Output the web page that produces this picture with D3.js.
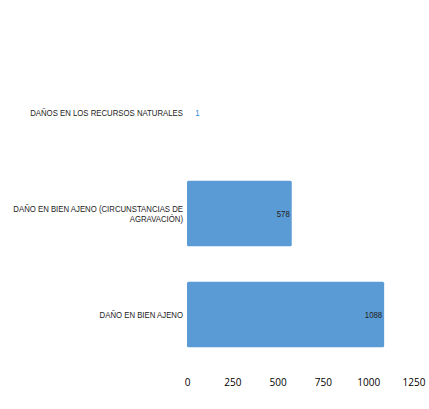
<!DOCTYPE html>
<html>
<head>
<meta charset="utf-8">
<script src="https://cdn.jsdelivr.net/npm/d3@7"></script>
<style>
  body { margin: 0; background: #fff; }
</style>
</head>
<body>
<div id="chart"></div>
<script>
// data
const categories = [
  'DAÑOS EN LOS RECURSOS NATURALES',
  'DAÑO EN BIEN AJENO (CIRCUNSTANCIAS DE AGRAVACIÓN)',
  'DAÑO EN BIEN AJENO'
];
const values = [1, 578, 1088];
const tickValues = [0, 250, 500, 750, 1000, 1250];

// label lines as shown on the chart
const labelLines = [
  ['DAÑOS EN LOS RECURSOS NATURALES'],
  ['DAÑO EN BIEN AJENO (CIRCUNSTANCIAS DE', 'AGRAVACIÓN)'],
  ['DAÑO EN BIEN AJENO']
];

const width = 429;
const height = 409;
const margin = { left: 187, top: 62, right: 16, bottom: 44 };
const squeeze = 0.82; // condensed look of the original font

const svg = d3.select('#chart')
  .append('svg')
    .attr('width', width)
    .attr('height', height);

const wrapper = svg.append('g')
  .attr('transform', `translate(${margin.left}, ${margin.top})`);

const innerH = height - margin.top - margin.bottom;

const xScale = d3.scaleLinear()
  .domain([0, 1250])
  .range([0, 226.5]);

const yScale = d3.scaleBand()
  .domain(categories)
  .range([0, innerH])
  .paddingInner(0.35)
  .paddingOuter(0.175);

// x axis, labels only
const xAxis = d3.axisBottom(xScale)
  .tickValues(tickValues)
  .tickFormat(d3.format('d'))
  .tickSize(0)
  .tickPadding(0);

const xg = wrapper.append('g')
  .attr('class', 'x axis')
  .attr('transform', `translate(0, ${innerH + 14})`)
  .call(xAxis);
xg.select('.domain').remove();
xg.selectAll('text')
  .style('font-family', '"Open Sans", sans-serif')
  .style('font-size', '10px')
  .attr('fill', '#000');

// bars
wrapper.selectAll('rect.bar')
  .data(values)
  .enter().append('rect')
    .attr('class', 'bar')
    .attr('x', 0)
    .attr('y', (d, i) => yScale(categories[i]))
    .attr('width', d => xScale(d))
    .attr('height', yScale.bandwidth())
    .attr('rx', d => xScale(d) > 4 ? 1.5 : 0)
    .attr('shape-rendering', d => xScale(d) > 4 ? 'auto' : 'crispEdges')
    .attr('fill', '#5B9BD5');

// value labels
const inside = d => xScale(d) > 30;
wrapper.selectAll('text.value')
  .data(values)
  .enter().append('text')
    .attr('class', 'value')
    .attr('transform', (d, i) => {
      const x = inside(d) ? xScale(d) - 2 : xScale(d) + 8;
      const y = yScale(categories[i]) + yScale.bandwidth() / 2;
      return `translate(${x}, ${y}) scale(${squeeze}, 1)`;
    })
    .attr('dy', '0.35em')
    .attr('text-anchor', d => inside(d) ? 'end' : 'start')
    .style('font-family', '"Liberation Sans", Arial, sans-serif')
    .style('font-size', '9.5px')
    .attr('fill', d => inside(d) ? '#222' : '#2F8BD6')
    .text(d => d);

// category labels
const labels = wrapper.selectAll('text.cat')
  .data(categories)
  .enter().append('text')
    .attr('class', 'cat')
    .attr('text-anchor', 'end')
    .attr('transform', (d, i) => {
      const y = yScale(d) + yScale.bandwidth() / 2 - (labelLines[i].length - 1) * 5;
      return `translate(-4, ${y}) scale(${squeeze}, 1)`;
    })
    .style('font-family', '"Liberation Sans", Arial, sans-serif')
    .style('font-size', '9.5px')
    .attr('fill', '#222');

labels.each(function(d, i) {
  d3.select(this).selectAll('tspan')
    .data(labelLines[i])
    .enter().append('tspan')
      .attr('x', 0)
      .attr('dy', (t, j) => j === 0 ? '0.35em' : '10')
      .text(t => t);
});
</script>
</body>
</html>
